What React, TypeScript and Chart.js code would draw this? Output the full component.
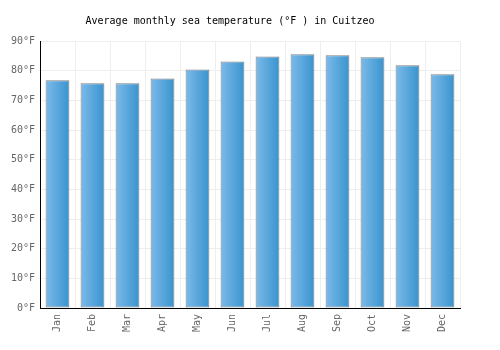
import React, { useEffect, useRef } from "react";
import { Chart, registerables } from "chart.js";

Chart.register(...registerables);

const months = ["Jan", "Feb", "Mar", "Apr", "May", "Jun", "Jul", "Aug", "Sep", "Oct", "Nov", "Dec"];
const seaTemps = [76.8, 75.8, 75.8, 77.4, 80.4, 83.1, 84.8, 85.5, 85.2, 84.5, 81.8, 78.8];
const titleText = "Average monthly sea temperature (°F ) in Cuitzeo";

const FONT = "'DejaVu Sans Mono', monospace";
const CAT_PCT = 0.68;

function barGradient(c: any) {
  const chart = c.chart;
  const xs = chart.scales && chart.scales.x;
  if (!xs || c.dataIndex === undefined) return "#5aa8dd";
  const x = xs.getPixelForValue(c.dataIndex);
  const w = (xs.width / months.length) * CAT_PCT;
  if (!isFinite(x) || !isFinite(w) || w <= 0) return "#5aa8dd";
  const g = chart.ctx.createLinearGradient(x - w / 2, 0, x + w / 2, 0);
  g.addColorStop(0, "#7cbaea");
  g.addColorStop(1, "#3894cd");
  return g;
}

export default function App() {
  const ref = useRef<HTMLCanvasElement>(null);
  useEffect(() => {
    const chart = new Chart(ref.current!, {
      type: "bar",
      data: {
        labels: months,
        datasets: [
          {
            data: seaTemps,
            backgroundColor: barGradient,
            borderColor: "#7f7f7f",
            borderWidth: 1,
            borderSkipped: false,
            categoryPercentage: CAT_PCT,
            barPercentage: 1,
          },
        ],
      },
      options: {
        animation: false,
        responsive: false,
        maintainAspectRatio: false,
        layout: { padding: { left: 0, right: 40, top: 0, bottom: 0 } },
        plugins: {
          legend: { display: false },
          tooltip: { enabled: false },
          title: {
            display: true,
            text: titleText,
            color: "#000",
            font: { family: FONT, size: 10, weight: "normal", lineHeight: 1.2 },
            padding: { top: 15, bottom: 14 },
          },
        },
        scales: {
          x: {
            grid: { color: "#eeeeee", offset: true, drawTicks: false },
            border: { color: "#000", width: 1 },
            ticks: {
              color: "#666",
              font: { family: FONT, size: 10 },
              minRotation: 90,
              maxRotation: 90,
              padding: 6,
            },
            afterFit: (s: any) => {
              s.height = 42;
            },
          },
          y: {
            min: 0,
            max: 90,
            grid: { color: "#eeeeee", drawTicks: false },
            border: { color: "#000", width: 1 },
            ticks: {
              stepSize: 10,
              color: "#666",
              font: { family: FONT, size: 10 },
              padding: 5,
              callback: (v: any) => v + "°F",
            },
            afterFit: (s: any) => {
              s.width = 40;
            },
          },
        },
      },
    });
    return () => chart.destroy();
  }, []);
  return (
    <div style={{ position: "absolute", left: 0, top: 0, width: 500, height: 350, background: "#fff" }}>
      <canvas ref={ref} width={500} height={350} style={{ width: 500, height: 350 }} />
    </div>
  );
}
